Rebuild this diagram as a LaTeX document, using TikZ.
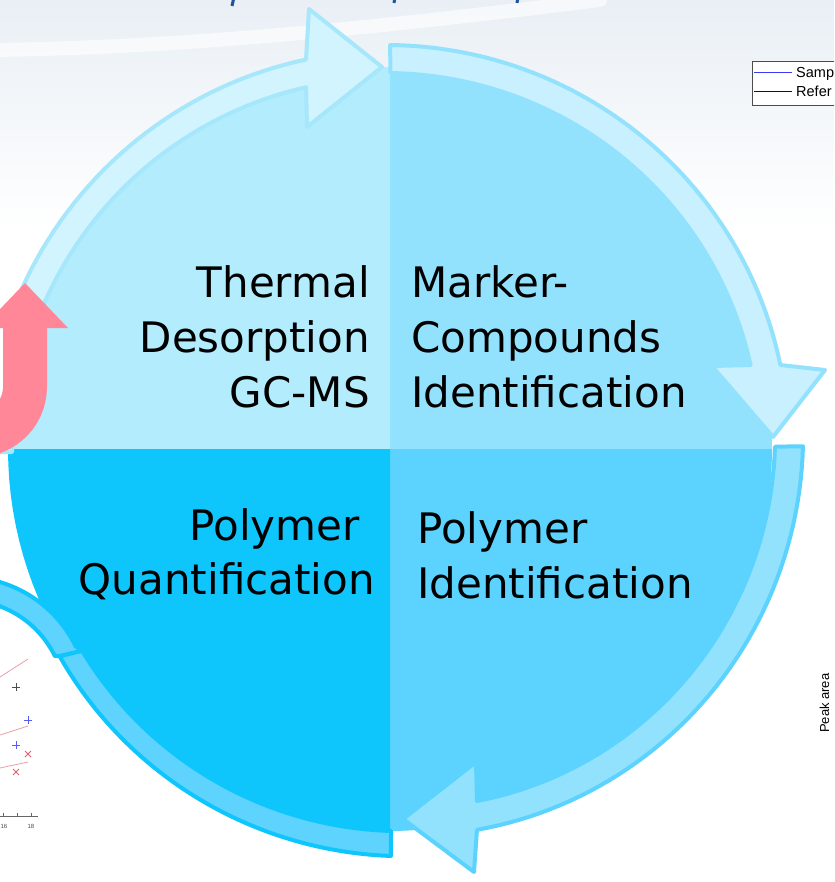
\documentclass[tikz,border=0pt]{standalone}
\usepackage{fontspec}
\setmainfont{DejaVu Sans}
\newfontfamily\arialfont{Liberation Sans}
\definecolor{tlpie}{HTML}{B3ECFD}
\definecolor{tlfill}{HTML}{D2F4FE}
\definecolor{tlline}{HTML}{A6E7FC}
\definecolor{trpie}{HTML}{93E2FD}
\definecolor{trfill}{HTML}{C8F0FE}
\definecolor{brpie}{HTML}{5BD3FE}
\definecolor{brfill}{HTML}{93E2FD}
\definecolor{blpie}{HTML}{0FC6FC}
\definecolor{blfill}{HTML}{5DD3FD}
\definecolor{pinkarrow}{HTML}{FF8798}
\definecolor{bgtop}{HTML}{E9EFF5}
\definecolor{titleblue}{HTML}{1F55A0}
\definecolor{plotred}{HTML}{E8A0A8}
\definecolor{plotblue}{HTML}{5A5AF0}
\definecolor{plotx}{HTML}{E06070}
\definecolor{legblue}{HTML}{3A3AF5}
\definecolor{legdark}{HTML}{0000B8}
\pgfmathdeclarefunction{rl}{5}{\pgfmathparse{#4+(#5-#4)*(#1-#2)/(#3-#2)}}
\tikzset{
  band/.style={line width=4pt, line join=round},
  lbl/.style={inner sep=0pt, font=\fontsize{42}{50}\selectfont, text=black},
  small/.style={inner sep=0pt, font=\arialfont\fontsize{14.5}{17}\selectfont, text=black},
}
\begin{document}
\begin{tikzpicture}[x=1pt,y=-1pt]
\path[use as bounding box] (0,0) rectangle (834,882);
\clip (0,0) rectangle (834,882);
% background
\fill[white] (0,0) rectangle (834,882);
\shade[top color=bgtop, bottom color=white] (0,0) rectangle (834,230);
\draw[white, line width=14pt, opacity=0.6, line cap=round] (-10,50) .. controls (150,48) and (320,35) .. (600,0);
% title fragments
\draw[titleblue, line width=3pt] (234,-3) -- (232,6);
\draw[titleblue, line width=3pt] (395,-3) -- (394,3);
\draw[titleblue, line width=3pt] (518,-3) -- (517,3);
% legend
\draw[draw=black!70, fill=white, line width=0.8pt] (752,61) rectangle (840,105);
\draw[legblue, line width=1pt] (754,72.5) -- (792,72.5);
\draw[legdark, line width=1pt] (754,92) -- (792,92);
\node[small, anchor=base west] (leg1) at (796,78) {Samp};
\node[small, anchor=base west] (leg2) at (796,97) {Refer};
% rotated axis label
\node[inner sep=0pt, font=\arialfont\fontsize{13}{15}\selectfont, rotate=90, anchor=base west] (peak) at (829,733) {Peak area};
% chart fragment
\draw[plotred, line width=0.8pt] (0,677) -- (28,659);
\draw[plotred, line width=0.8pt] (0,735) -- (28,726);
\draw[plotred, line width=0.8pt] (0,768) -- (28,762);
\draw[black!70, line width=0.8pt] (12,687) -- (20,687) (16,683) -- (16,691);
\draw[plotblue, line width=0.8pt] (24,720) -- (32,720) (28,716) -- (28,724);
\draw[plotblue, line width=0.8pt] (12,745) -- (20,745) (16,741) -- (16,749);
\draw[plotx, line width=0.8pt] (25,751) -- (31,757) (25,757) -- (31,751);
\draw[plotx, line width=0.8pt] (13,769) -- (19,775) (13,775) -- (19,769);
\draw[black!60, line width=0.7pt] (0,816) -- (38,816) (3,816) -- (3,813) (17,816) -- (17,813) (31,816) -- (31,813);
\node[inner sep=0pt, font=\arialfont\fontsize{6}{7}\selectfont, text=black!70] (tk16) at (4,826) {16};
\node[inner sep=0pt, font=\arialfont\fontsize{6}{7}\selectfont, text=black!70] (tk18) at (31,826) {18};
% pies
\fill[tlpie] (390,449) -- plot[variable=\t,domain=90:180,samples=40] ({390+382*cos(\t)},{449-382*sin(\t)}) -- cycle;
\fill[trpie] (390,449) -- plot[variable=\t,domain=0:90,samples=40] ({390+382*cos(\t)},{449-382*sin(\t)}) -- cycle;
\fill[brpie] (390,449) -- plot[variable=\t,domain=-90:0,samples=40] ({390+382*cos(\t)},{449-382*sin(\t)}) -- cycle;
\fill[blpie] (390,449) -- plot[variable=\t,domain=180:270,samples=40] ({390+382*cos(\t)},{449-382*sin(\t)}) -- cycle;
% top-left arrow
\filldraw[band, fill=tlfill, draw=tlline]
  plot[variable=\t,domain=180:102.5,samples=50] ({393+rl(\t,180,102.5,407,402)*cos(\t)},{452-rl(\t,180,102.5,407,402)*sin(\t)})
  -- (309,9) -- (382,67) -- (307,127)
  -- plot[variable=\t,domain=103.4:180,samples=50] ({393+rl(\t,180,103.4,381,375)*cos(\t)},{452-rl(\t,180,103.4,381,375)*sin(\t)})
  -- cycle;
% top-right arrow
\filldraw[band, fill=trfill, draw=trpie]
  plot[variable=\t,domain=90.4:12.66,samples=50] ({393+rl(\t,90.4,12.66,407,397)*cos(\t)},{452-rl(\t,90.4,12.66,407,397)*sin(\t)})
  -- (825,370) -- (773,437) -- (712,366)
  -- plot[variable=\t,domain=13.67:90.4,samples=50] ({393+rl(\t,90.4,13.67,379,368)*cos(\t)},{452-rl(\t,90.4,13.67,379,368)*sin(\t)})
  -- cycle;
% bottom-right arrow
\filldraw[band, fill=brfill, draw=brpie]
  plot[variable=\t,domain=0.8:-77.47,samples=50] ({393+rl(\t,0.8,-77.47,410,387)*cos(\t)},{452-rl(\t,0.8,-77.47,410,387)*sin(\t)})
  -- (474,872) -- (403,819) -- (476,762)
  -- plot[variable=\t,domain=-76.47:0.8,samples=50] ({393+rl(\t,0.8,-76.47,382,359)*cos(\t)},{452-rl(\t,0.8,-76.47,382,359)*sin(\t)})
  -- cycle;
% bottom-left arrow (outer piece then main band)
\filldraw[band, fill=blfill, draw=blpie]
  (82,651) -- plot[variable=\t,domain=26:85,samples=30] ({-35+123*cos(\t)},{700-123*sin(\t)})
  -- plot[variable=\t,domain=85:26,samples=30] ({-35+100*cos(\t)},{700-100*sin(\t)})
  -- (59.6,656) -- cycle;
\filldraw[band, fill=blfill, draw=blpie]
  plot[variable=\t,domain=-90.3:-148.5,samples=50] ({393+rl(\t,-90.3,-148.5,404,391)*cos(\t)},{452-rl(\t,-90.3,-148.5,404,391)*sin(\t)})
  -- plot[variable=\t,domain=-147.4:-90.3,samples=50] ({393+rl(\t,-90.3,-147.4,379,369)*cos(\t)},{452-rl(\t,-90.3,-147.4,379,369)*sin(\t)})
  -- cycle;
% pink U-turn arrow (partly outside)
\fill[white] (3,328) -- (3,387) -- plot[variable=\t,domain=0:180,samples=20] ({-23+26*cos(\t)},{387+26*sin(\t)}) -- (-49,328) -- cycle;
\fill[pinkarrow] (3,387) -- (3,328) -- (-18,328) -- (25,283) -- (68,328) -- (47,328) -- (47,387)
  -- plot[variable=\t,domain=0:180,samples=30] ({-23+70*cos(\t)},{387+70*sin(\t)})
  -- (-93,300) -- (-49,300) -- (-49,387)
  -- plot[variable=\t,domain=180:0,samples=20] ({-23+26*cos(\t)},{387+26*sin(\t)})
  -- cycle;
% labels
\node[lbl, anchor=base east] (t1) at (370,297) {Thermal};
\node[lbl, anchor=base east] (t2) at (370,352) {Desorption};
\node[lbl, anchor=base east] (t3) at (370,407) {GC-MS};
\node[lbl, anchor=base west] (m1) at (411,297) {Marker-};
\node[lbl, anchor=base west] (m2) at (411,352) {Compounds};
\node[lbl, anchor=base west] (m3) at (411,407) {Identification};
\node[lbl, anchor=base east] (q1) at (360,540) {Polymer};
\node[lbl, anchor=base east] (q2) at (375,594) {Quantification};
\node[lbl, anchor=base west] (p1) at (417,543) {Polymer};
\node[lbl, anchor=base west] (p2) at (417,598) {Identification};
\end{tikzpicture}
\end{document}
